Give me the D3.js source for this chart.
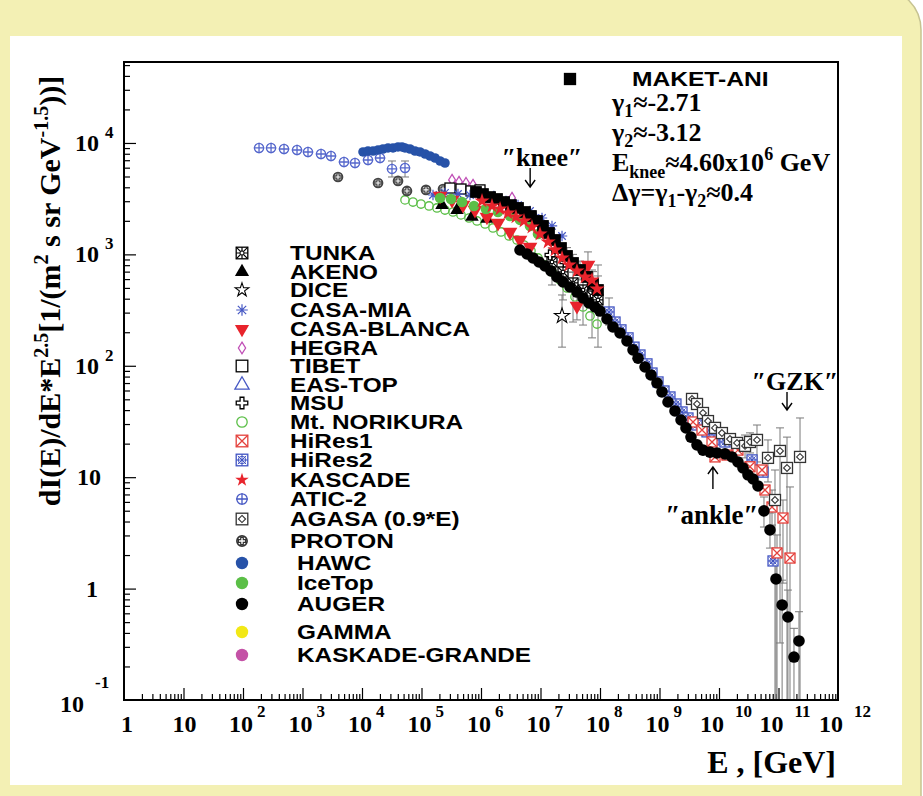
<!DOCTYPE html>
<html>
<head>
<meta charset="utf-8">
<script src="https://cdn.jsdelivr.net/npm/d3@7"></script>
<style>
body { margin: 0; background: #fff; }
svg { display: block; }
</style>
</head>
<body>
<svg id="chart"></svg>
<script>
// cosmic ray all-particle spectrum, E^2.5 weighted
// values: energy in GeV, flux in 1/(m^2 s sr GeV^-1.5)

var tunkaE = [1.56e7, 2.39e7, 3.52e7, 5.18e7, 7.34e7, 9.25e7];
var tunkaF = [855, 695, 554, 479, 423, 390];
var tunkaHi = [1141, 929, 695, 803, 724, 803];
var tunkaLo = [531, 390, 247, 232, 178, 147];

var akenoE = [2.21e5, 3.95e5, 7.06e5, 1.26e6];
var akenoF = [2770, 2500, 2170, 2080];

var diceE = [2.30e7];
var diceF = [280];
var diceHi = [432];
var diceLo = [147];

var casaMiaE = [1.56e5, 2.48e5, 4.10e5, 6.53e5, 1.04e6, 1.65e6, 2.63e6, 4.19e6, 6.66e6, 1.06e7, 1.56e7, 2.30e7];
var casaMiaF = [3410, 3560, 3480, 3410, 3340, 3210, 3010, 2770, 2450, 2120, 1800, 1462];

var casaBlancaE = [2.05e5, 3.26e5, 4.98e5, 7.92e5, 1.26e6, 1.93e6, 3.07e6, 4.52e6, 6.66e6, 6.28e7, 4.10e7];
var casaBlancaF = [3340, 3080, 2770, 2500, 2170, 1914, 1589, 1346, 1165, 803, 344];
var casaBlancaHi = [null, null, null, null, null, null, null, null, null, 1052, 423];
var casaBlancaLo = [null, null, null, null, null, null, null, null, null, 390, 258];

var hegraE = [3.26e5, 4.27e5, 5.60e5, 7.34e5, 3.32e6];
var hegraF = [4660, 4470, 4370, 4200, 3210];

var tibetE = [3.01e5, 4.61e5, 6.79e5, 9.62e5];
var tibetF = [3940, 3860, 3710, 3790];

var easTopE = [1.65e6, 3.73e6, 8.09e6];
var easTopF = [3140, 2660, 2080];

var msuE = [1.45e7, 2.58e7];
var msuF = [988, 855];

var norikuraE = [5.28e4, 7.19e4, 9.81e4, 1.34e5, 1.82e5, 2.48e5, 3.38e5, 4.61e5, 6.28e5, 8.57e5,
                 1.17e6, 1.59e6, 2.17e6, 2.96e6, 4.03e6, 5.28e6, 6.92e6, 9.08e6, 1.19e7, 1.56e7,
                 2.13e7, 2.79e7, 3.80e7, 5.18e7, 6.79e7, 8.91e7];
var norikuraF = [3080, 2950, 2830, 2720, 2610, 2500, 2400, 2260, 2120, 1995,
                 1875, 1726, 1589, 1462, 1346, 1213, 1074, 929, 803, 695,
                 589, 499, 415, 337, 280, 237];

var hires1E = [3.66e9, 5.18e9, 7.63e9, 8.57e9, 1.36e10, 2.08e10, 3.32e10, 5.28e10, 5.93e10, 7.78e10, 1.19e11, 9.44e10, 1.56e11];
var hires1F = [31.3, 26.5, 20.7, 15.2, 15.8, 17.5, 12.4, 11.6, 7.67, 5.40, 4.30, 2.09, 1.88];
var hires1Hi = [null, null, null, null, null, null, null, null, null, 7.67, 6.24, 3.03, 8.17];
var hires1Lo = [null, null, null, null, null, null, null, null, null, 3.72, 1.12, 0.1, 0.1];

var hires2E = [1.42e8, 1.79e8, 2.25e8, 2.96e8, 3.73e8, 4.70e8, 6.16e8, 7.48e8, 9.44e8, 1.19e9, 1.50e9,
               1.89e9, 2.39e9, 3.01e9, 4.27e9, 6.28e9, 8.24e9, 1.26e10, 2.01e10, 3.59e10, 5.49e10, 8.09e10];
var hires2F = [304, 247, 210, 178, 147, 125, 104, 86.1, 71.6, 59.4, 52.5,
               45.4, 38.5, 34.0, 29.4, 25.5, 21.6, 20.7, 18.3, 14.3, 11.1, 1.77];
var hires2Hi = [406];
var hires2Lo = [232];

var kascadeE = [1.04e6, 1.53e6, 2.09e6, 2.84e6, 3.87e6, 5.28e6, 7.19e6, 9.81e6, 1.34e7, 1.75e7, 2.30e7, 3.01e7, 4.10e7, 5.60e7, 7.34e7, 8.91e7];
var kascadeF = [3010, 2720, 2560, 2350, 2170, 1995, 1762, 1525, 1292, 1095, 929, 803, 710, 627, 589, 489];

var aticE = [186, 296, 489, 809, 1237, 2047, 3013, 4981, 7627, 12620, 20090, 31920, 52840];
var aticF = [9020, 9020, 8830, 8650, 8300, 7960, 7640, 6750, 6610, 7030, 7330, 5850, 5970];
var aticHi = [null, null, null, null, null, null, null, null, null, null, null, 6890, 6890];
var aticLo = [null, null, null, null, null, null, null, null, null, null, null, 4950, 4950];

var agasaE = [3.52e9, 4.27e9, 5.38e9, 6.53e9, 8.57e9, 1.12e10, 1.53e10, 2.01e10, 2.74e10, 3.32e10, 4.35e10, 6.66e10, 8.73e10, 1.06e11, 1.39e11, 2.30e11];
var agasaF = [50.4, 45.4, 37.7, 31.9, 27.7, 24.9, 22.0, 20.3, 19.1, 20.7, 21.6, 14.9, 6.24, 17.2, 12.1, 15.2];
var agasaHi = [null, null, null, null, null, null, null, null, 23.9, 25.0, 29.4, 21.6, 11.6, 27.7, 22.9, 34.0];
var agasaLo = [null, null, null, null, null, null, null, null, 14.9, 16.5, 13.7, 9.06, 0.1, 0.325, 0.1, 0.1];

var protonE = [3950, 18600, 40300, 57000, 119000, 230000];
var protonF = [4950, 4370, 4560, 3710, 3790, 3860];

var hawcE = [1.04e4, 1.26e4, 1.53e4, 1.86e4, 2.25e4, 2.74e4, 3.32e4, 4.03e4, 4.70e4, 5.28e4, 6.41e4, 7.78e4, 9.44e4, 1.15e5, 1.39e5, 1.69e5, 2.05e5, 2.48e5];
var hawcF = [8300, 8470, 8470, 8650, 8830, 9020, 9020, 9210, 9210, 9020, 8830, 8470, 8300, 7960, 7640, 7330, 6890, 6610];

var icetopE = [2.05e5, 3.13e5, 4.80e5, 7.62e5, 1.21e6, 1.93e6, 3.07e6, 4.52e6, 6.66e6, 9.08e6];
var icetopF = [3210, 3140, 2950, 2720, 2560, 2400, 2210, 2040, 1800, 1525];

var augerE = [4.52e6, 5.93e6, 7.48e6, 9.44e6, 1.19e7, 1.50e7, 1.89e7, 2.39e7, 3.13e7, 4.10e7,
              5.18e7, 6.53e7, 8.24e7, 1.00e8, 1.31e8, 1.65e8, 2.17e8, 2.84e8, 3.59e8, 4.36e8,
              5.71e8, 7.19e8, 9.08e8, 1.10e9, 1.39e9, 1.82e9, 2.30e9, 2.79e9, 3.38e9, 4.27e9,
              5.38e9, 7.06e9, 9.25e9, 1.26e10, 1.65e10, 2.08e10, 2.53e10, 3.07e10, 3.73e10, 4.52e10,
              5.70e10, 7.19e10, 9.08e10, 1.15e11, 1.44e11, 2.21e11, 1.82e11];
var augerF = [1095, 1009, 929, 855, 787, 710, 627, 565, 510, 459,
              406, 366, 337, 310, 263, 223, 197, 167, 139, 117,
              97.5, 82.7, 70.1, 58.2, 47.3, 39.3, 32.6, 27.7, 22.9, 19.5,
              17.5, 16.8, 16.5, 16.2, 15.2, 13.7, 12.1, 10.5, 9.63, 8.34,
              4.98, 3.36, 1.22, 0.713, 0.556, 0.339, 0.243];
var augerHi = [];
var augerLo = [];
augerHi[40] = 6.64; augerLo[40] = 3.57;
augerHi[41] = 4.77; augerLo[41] = 2.31;
augerHi[42] = 2.0;  augerLo[42] = 0.1;
augerHi[43] = 1.19; augerLo[43] = 0.1;
augerHi[44] = 0.97; augerLo[44] = 0.1;
augerHi[45] = 0.62; augerLo[45] = 0.1;
augerHi[46] = 0.44; augerLo[46] = 0.1;

var maketE = [8.24e5, 1.08e6, 1.42e6, 1.86e6, 2.44e6, 3.19e6, 4.19e6, 5.49e6, 6.92e6, 8.73e6,
              1.10e7, 1.39e7, 1.75e7, 2.21e7, 2.79e7, 3.52e7, 4.61e7, 6.05e7, 7.63e7, 9.25e7];
var maketF = [3630, 3480, 3270, 3140, 2950, 2770, 2610, 2400, 2210, 1995,
              1800, 1556, 1346, 1141, 968, 837, 724, 627, 542, 479];
var maketHi = [null, null, null, null, null, null, null, null, null, null, null, null, null, null, 1150, 1000, 870, 780, 700, 640];
var maketLo = [null, null, null, null, null, null, null, null, null, null, null, null, null, null, 800, 690, 590, 500, 420, 370];

var legendNames = ["TUNKA", "AKENO", "DICE", "CASA-MIA", "CASA-BLANCA", "HEGRA", "TIBET", "EAS-TOP", "MSU",
                   "Mt. NORIKURA", "HiRes1", "HiRes2", "KASCADE", "ATIC-2", "AGASA (0.9*E)", "PROTON",
                   "HAWC", "IceTop", "AUGER", "GAMMA", "KASKADE-GRANDE"];

var xTickPow = [0, 1, 2, 3, 4, 5, 6, 7, 8, 9, 10, 11, 12];
var yTickPow = [-1, 0, 1, 2, 3, 4];

// ---------- layout ----------
var W = 923, H = 796;
var L = 124, R = 838, T = 62, B = 700;
var serif = "'Liberation Serif','Times New Roman',serif";
var sans = "'Liberation Sans',Arial,sans-serif";

var svg = d3.select("#chart").attr("width", W).attr("height", H);

svg.append("rect").attr("width", W).attr("height", H).attr("fill", "#fff");
svg.append("rect")
   .attr("x", -40).attr("y", -12).attr("width", 961).attr("height", 850)
   .attr("rx", 42)
   .attr("fill", "#f3f0b4").attr("stroke", "#c6c391").attr("stroke-width", 1.5);
svg.append("rect")
   .attr("x", 10).attr("y", 36).attr("width", 892).attr("height", 749)
   .attr("fill", "#fff");

var x = d3.scaleLog().domain([1, 1e12]).range([L, R]);
var y = d3.scaleLog().domain([0.1, 5.33e4]).range([B, T]);

// ticks
var xMinor = [], xMajor = [], yMinor = [], yMajor = [];
for (var d = 0; d < 12; d++) {
	for (var k = 2; k < 10; k++) xMinor.push(k * Math.pow(10, d));
	if (d > 0) xMajor.push(Math.pow(10, d));
}
for (var d = -1; d < 5; d++) {
	for (var k = 2; k < 10; k++) if (k * Math.pow(10, d) < 5.33e4) yMinor.push(k * Math.pow(10, d));
	if (d > -1) yMajor.push(Math.pow(10, d));
}

function tickStyle(g) {
	g.select(".domain").remove();
	g.selectAll("line").attr("stroke", "#000").attr("stroke-width", 1.2);
}

svg.append("g").attr("transform", "translate(0," + B + ")")
   .call(d3.axisBottom(x).tickValues(xMinor).tickSize(-6).tickFormat(""))
   .call(tickStyle);
svg.append("g").attr("transform", "translate(0," + B + ")")
   .call(d3.axisBottom(x).tickValues(xMajor).tickSize(-12).tickFormat(""))
   .call(tickStyle);
svg.append("g").attr("transform", "translate(" + L + ",0)")
   .call(d3.axisLeft(y).tickValues(yMinor).tickSize(-6).tickFormat(""))
   .call(tickStyle);
svg.append("g").attr("transform", "translate(" + L + ",0)")
   .call(d3.axisLeft(y).tickValues(yMajor).tickSize(-12).tickFormat(""))
   .call(tickStyle);

// tick labels
function label(xp, yp, str, size, anchor) {
	return svg.append("text").attr("x", xp).attr("y", yp)
	   .attr("text-anchor", anchor || "start")
	   .style("font-family", serif).style("font-weight", "bold").style("font-size", size + "px")
	   .text(str);
}

xTickPow.forEach(function(p) {
	var tx = x(Math.pow(10, p));
	var by = 732;
	if (p === 0) label(tx + 3, by, "1", 24, "middle");
	else if (p === 1) label(tx + 1, by, "10", 24, "middle");
	else {
		var baseEnd = tx + (p < 10 ? 10 : 5);
		label(baseEnd, by, "10", 24, "end");
		label(baseEnd + (p < 10 ? 4 : 11), by - 15, String(p), 17, "start");
	}
});

yTickPow.forEach(function(p) {
	var ty = y(Math.pow(10, p));
	if (p === 0) label(98, ty + 8, "1", 24, "end");
	else if (p === 1) label(101, ty + 8, "10", 24, "end");
	else if (p < 0) {
		label(84, ty + 12, "10", 24, "end");
		label(95, ty - 12, String(p), 17, "start");
	} else {
		label(99, ty + 8, "10", 24, "end");
		label(105, ty - 5, String(p), 17, "start");
	}
});

// text with sub/superscripts: parts = [text, offset, size]
function rich(t, parts) {
	var prev = 0;
	parts.forEach(function(p) {
		t.append("tspan").attr("dy", p[1] - prev).style("font-size", p[2] + "px").text(p[0]);
		prev = p[1];
	});
	return t;
}

var ylab = svg.append("text")
   .attr("transform", "translate(60,291) rotate(-90)")
   .attr("text-anchor", "middle")
   .style("font-family", serif).style("font-weight", "bold");
rich(ylab, [["dI(E)/dE*E", 0, 30], ["2.5", -12, 20], ["[1/(m", 0, 30], ["2", -12, 20],
            [" s sr GeV", 0, 30], ["-1.5", -12, 20], ["))]", 0, 30]]);

label(836, 773, "E , [GeV]", 32, "end");

// ---------- markers ----------
function drawSymbol(g, type, col, r) {
	var sw = 1.3;
	function box(fill) {
		return g.append("rect").attr("x", -r).attr("y", -r).attr("width", 2 * r).attr("height", 2 * r)
		        .attr("fill", fill).attr("stroke", col).attr("stroke-width", sw);
	}
	function lines(dstr, w) {
		g.append("path").attr("d", dstr).attr("fill", "none").attr("stroke", col).attr("stroke-width", w || sw);
	}
	var c = r * 0.72;
	if (type === "dot") {
		g.append("circle").attr("r", r).attr("fill", col);
	} else if (type === "ring") {
		g.append("circle").attr("r", r - 0.6).attr("fill", "none").attr("stroke", col).attr("stroke-width", sw);
	} else if (type === "ringPlus") {
		g.append("circle").attr("r", r - 0.6).attr("fill", "#fff").attr("stroke", col).attr("stroke-width", sw);
		lines("M" + (-r) + ",0H" + r + "M0," + (-r) + "V" + r);
	} else if (type === "proton") {
		g.append("circle").attr("r", r - 0.7).attr("fill", "#fff").attr("stroke", col).attr("stroke-width", 1.7);
		var a = r * 0.22, b = r * 0.62;
		lines("M" + (-a) + "," + (-b) + "H" + a + "V" + (-a) + "H" + b + "V" + a + "H" + a + "V" + b +
		      "H" + (-a) + "V" + a + "H" + (-b) + "V" + (-a) + "H" + (-a) + "Z", 1.2);
	} else if (type === "square") {
		box(col);
	} else if (type === "box") {
		box("#fff");
	} else if (type === "boxX") {
		box("#fff");
		lines("M" + (-r) + "," + (-r) + "L" + r + "," + r + "M" + r + "," + (-r) + "L" + (-r) + "," + r);
	} else if (type === "boxStar") {
		box("#fff");
		g.append("circle").attr("r", r * 0.65).attr("fill", "none").attr("stroke", col).attr("stroke-width", 1);
		lines("M" + (-c) + "," + (-c) + "L" + c + "," + c + "M" + c + "," + (-c) + "L" + (-c) + "," + c +
		      "M" + (-r) + ",0H" + r + "M0," + (-r) + "V" + r, 1);
	} else if (type === "tunka") {
		box("#fff");
		lines("M" + (-r) + "," + (-r) + "L" + r + "," + r + "M" + r + "," + (-r) + "L" + (-r) + "," + r +
		      "M" + (-r) + ",0H" + r + "M0," + (-r) + "V" + r, 1.2);
		g.append("circle").attr("r", r * 0.35).attr("fill", "#fff").attr("stroke", col).attr("stroke-width", 1);
	} else if (type === "agasa") {
		box("#fff");
		var q = r * 0.62;
		lines("M0," + (-q) + "L" + q + ",0L0," + q + "L" + (-q) + ",0Z", 1.1);
	} else if (type === "tri" || type === "triOpen" || type === "triDown") {
		var p = g.append("path").attr("d", d3.symbol().type(d3.symbolTriangle).size(r * r * 2.6)());
		if (type === "triOpen") p.attr("fill", "#fff").attr("stroke", col).attr("stroke-width", sw);
		else p.attr("fill", col);
		if (type === "triDown") p.attr("transform", "rotate(180)");
	} else if (type === "diamond") {
		g.append("path").attr("d", "M0," + (-r) + "L" + (r * 0.62) + ",0L0," + r + "L" + (-r * 0.62) + ",0Z")
		 .attr("fill", "#fff").attr("stroke", col).attr("stroke-width", sw);
	} else if (type === "star" || type === "starOpen") {
		var s = g.append("path").attr("d", d3.symbol().type(d3.symbolStar).size(r * r * 1.7)());
		if (type === "starOpen") s.attr("fill", "#fff").attr("stroke", col).attr("stroke-width", 1.1);
		else s.attr("fill", col);
	} else if (type === "asterisk") {
		lines("M" + (-c) + "," + (-c) + "L" + c + "," + c + "M" + c + "," + (-c) + "L" + (-c) + "," + c +
		      "M" + (-r) + ",0H" + r + "M0," + (-r) + "V" + r, 1.2);
	} else if (type === "cross") {
		g.append("path").attr("d", d3.symbol().type(d3.symbolCross).size(r * r * 2.2)())
		 .attr("fill", "#fff").attr("stroke", col).attr("stroke-width", sw);
	}
}

var blue = "#4658c4", red = "#e8242c", green = "#5bbf47", black = "#000";

var series = [
	{ name: "Mt. NORIKURA", sym: "ring", col: green, r: 4.8, E: norikuraE, F: norikuraF },
	{ name: "ATIC-2", sym: "ringPlus", col: "#5567cc", r: 5.2, E: aticE, F: aticF, hi: aticHi, lo: aticLo },
	{ name: "PROTON", sym: "proton", col: "#444", r: 5.2, E: protonE, F: protonF },
	{ name: "HEGRA", sym: "diamond", col: "#c04eb6", r: 5.5, E: hegraE, F: hegraF },
	{ name: "TIBET", sym: "box", col: black, r: 5, E: tibetE, F: tibetF },
	{ name: "CASA-MIA", sym: "asterisk", col: blue, r: 5.2, E: casaMiaE, F: casaMiaF },
	{ name: "EAS-TOP", sym: "triOpen", col: blue, r: 5.2, E: easTopE, F: easTopF },
	{ name: "AKENO", sym: "tri", col: black, r: 5.5, E: akenoE, F: akenoF },
	{ name: "CASA-BLANCA", sym: "triDown", col: red, r: 6, E: casaBlancaE, F: casaBlancaF, hi: casaBlancaHi, lo: casaBlancaLo },
	{ name: "IceTop", sym: "dot", col: green, r: 5.3, E: icetopE, F: icetopF },
	{ name: "TUNKA", sym: "tunka", col: black, r: 5, E: tunkaE, F: tunkaF, hi: tunkaHi, lo: tunkaLo },
	{ name: "MSU", sym: "cross", col: black, r: 5, E: msuE, F: msuF },
	{ name: "DICE", sym: "starOpen", col: black, r: 6.5, E: diceE, F: diceF, hi: diceHi, lo: diceLo },
	{ name: "HiRes2", sym: "boxStar", col: "#3f52c2", r: 5, E: hires2E, F: hires2F, hi: hires2Hi, lo: hires2Lo },
	{ name: "HiRes1", sym: "boxX", col: "#e4413c", r: 5, E: hires1E, F: hires1F, hi: hires1Hi, lo: hires1Lo },
	{ name: "AGASA (0.9*E)", sym: "agasa", col: "#333", r: 5.5, E: agasaE, F: agasaF, hi: agasaHi, lo: agasaLo },
	{ name: "HAWC", sym: "dot", col: "#2752a8", r: 4.8, E: hawcE, F: hawcF },
	{ name: "MAKET-ANI", sym: "square", col: black, r: 5.2, E: maketE, F: maketF, hi: maketHi, lo: maketLo },
	{ name: "KASCADE", sym: "star", col: red, r: 6.5, E: kascadeE, F: kascadeF },
	{ name: "AUGER", sym: "dot", col: black, r: 5.8, E: augerE, F: augerF, hi: augerHi, lo: augerLo }
];

var plot = svg.append("g");

// error bars first, under all markers
var bars = [];
series.forEach(function(s) {
	if (!s.hi) return;
	s.E.forEach(function(e, i) {
		if (s.hi[i] != null && s.lo[i] != null) bars.push({ E: e, hi: s.hi[i], lo: s.lo[i] });
	});
});
var barG = plot.append("g").attr("stroke", "#7a7a7a").attr("stroke-width", 1).attr("fill", "none");
barG.selectAll("path").data(bars).join("path")
	.attr("d", function(b) {
		var bx = x(b.E), y1 = y(b.hi), y2 = Math.min(y(b.lo), B);
		var cap = "M" + (bx - 4) + "," + y1 + "H" + (bx + 4);
		if (b.lo > 0.1) cap += "M" + (bx - 4) + "," + y2 + "H" + (bx + 4);
		return "M" + bx + "," + y1 + "V" + y2 + cap;
	});

series.forEach(function(s) {
	var pts = s.E.map(function(e, i) { return { E: e, F: s.F[i] }; });
	plot.append("g").selectAll("g").data(pts).join("g")
		.attr("transform", function(d) { return "translate(" + x(d.E) + "," + y(d.F) + ")"; })
		.each(function() { drawSymbol(d3.select(this), s.sym, s.col, s.r); });
});

// frame
svg.append("rect").attr("x", L).attr("y", T).attr("width", R - L).attr("height", B - T)
   .attr("fill", "none").attr("stroke", "#000").attr("stroke-width", 2);

// ---------- legend ----------
var legendSym = ["tunka", "tri", "starOpen", "asterisk", "triDown", "diamond", "box", "triOpen", "cross",
                 "ring", "boxX", "boxStar", "star", "ringPlus", "agasa", "proton",
                 "dot", "dot", "dot", "dot", "dot"];
var legendCol = [black, black, black, blue, red, "#c04eb6", black, blue, black,
                 green, "#e4413c", "#3f52c2", red, blue, "#333", "#333",
                 "#2752a8", green, black, "#f2e816", "#c452a6"];
var legendY = [253, 272, 290, 310, 329, 348, 366, 385, 403, 422, 441, 460, 480, 499, 519, 541, 563, 583, 604, 632, 655];

legendNames.forEach(function(n, i) {
	var g = svg.append("g").attr("transform", "translate(242," + legendY[i] + ")");
	var big = legendSym[i] === "dot";
	drawSymbol(g, legendSym[i], legendCol[i], big ? 6.2 : 5.8);
	svg.append("text")
	   .attr("transform", "translate(" + (i < 16 ? 290 : 297) + "," + (legendY[i] + 7) + ") scale(1.25,1.04)")
	   .style("font-family", sans).style("font-weight", "bold").style("font-size", "19.5px")
	   .text(n);
});

// MAKET-ANI block
drawSymbol(svg.append("g").attr("transform", "translate(570,79)"), "square", black, 5.5);
svg.append("text").attr("transform", "translate(632,86) scale(1.2,1)")
   .style("font-family", sans).style("font-weight", "bold").style("font-size", "20.5px")
   .text("MAKET-ANI");

function serifText(xp, yp, size) {
	return svg.append("text").attr("x", xp).attr("y", yp)
	   .style("font-family", serif).style("font-weight", "bold").style("font-size", size + "px");
}
rich(serifText(612, 111, 26), [["γ", 0, 26], ["1", 6, 18], ["≈-2.71", 0, 26]]);
rich(serifText(612, 141, 26), [["γ", 0, 26], ["2", 6, 18], ["≈-3.12", 0, 26]]);
rich(serifText(612, 171, 26), [["E", 0, 26], ["knee", 7, 18], ["≈4.60x10", 0, 26], ["6", -11, 18], [" GeV", 0, 26]]);
rich(serifText(612, 201, 26), [["Δγ=γ", 0, 26], ["1", 6, 18], ["-γ", 0, 26], ["2", 6, 18], ["≈0.4", 0, 26]]);

// annotations
function arrow(xp, yFrom, yTo) {
	var dir = yTo > yFrom ? -1 : 1;
	svg.append("path")
	   .attr("d", "M" + xp + "," + yFrom + "V" + yTo +
	              "M" + (xp - 5) + "," + (yTo + dir * 7) + "L" + xp + "," + yTo + "L" + (xp + 5) + "," + (yTo + dir * 7))
	   .attr("fill", "none").attr("stroke", "#000").attr("stroke-width", 1.4);
}
var kneeE = 6.7e6, gzkE = 1.39e11, ankleE = 7.9e9;
label(542, 166, "\u2033knee\u2033", 26, "middle");
arrow(x(kneeE), 168, 187);
label(795, 390, "\u2033GZK\u2033", 26, "middle");
arrow(x(gzkE), 392, 410);
label(712, 524, "\u2033ankle\u2033", 27, "middle");
arrow(x(ankleE), 489, 467);
</script>
</body>
</html>
